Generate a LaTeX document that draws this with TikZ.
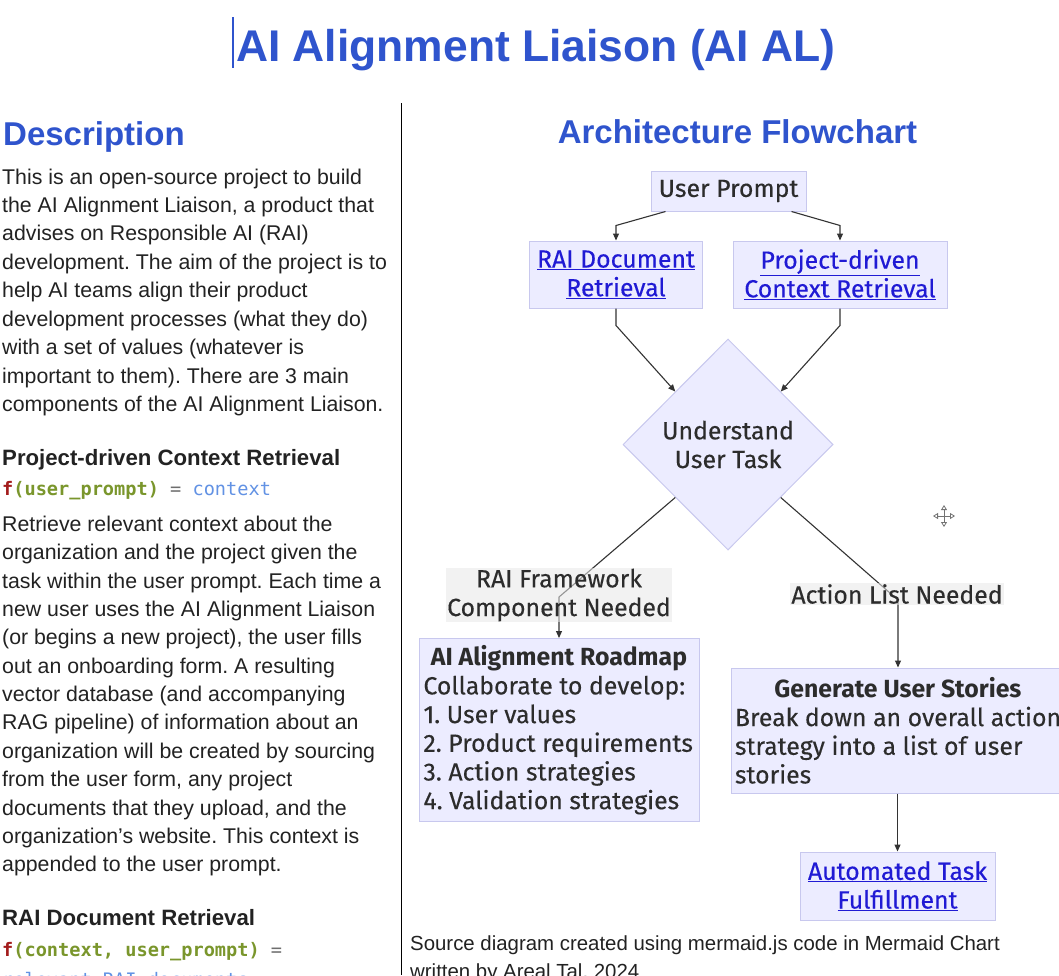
\documentclass[tikz,border=0pt]{standalone}
\usepackage{fontspec}
\setmainfont{Liberation Sans}
\newfontfamily\chartfont{Fira Sans}[UprightFeatures={FakeBold=0.3}]
\newfontfamily\codefont{DejaVu Sans Mono}
\usetikzlibrary{shapes.geometric,arrows.meta,positioning}

\definecolor{headblue}{RGB}{47,84,205}
\definecolor{linkblue}{RGB}{32,26,212}
\definecolor{boxfill}{RGB}{236,236,255}
\definecolor{boxline}{RGB}{200,200,238}
\definecolor{bodytext}{RGB}{34,34,34}
\definecolor{charttext}{RGB}{44,44,44}
\definecolor{edgeline}{RGB}{51,51,51}
\definecolor{codered}{RGB}{163,28,28}
\definecolor{codegreen}{RGB}{122,150,44}
\definecolor{codegray}{RGB}{110,110,110}
\definecolor{codeblue}{RGB}{98,146,228}

\newcommand\linkline[1]{\underline{#1}}
\frenchspacing

\tikzset{
  body/.style={anchor=base west, inner sep=0pt, text=bodytext, font=\fontsize{21.3}{25}\selectfont},
  subhead/.style={body, font=\bfseries\fontsize{22.2}{26}\selectfont},
  codeline/.style={anchor=base west, inner sep=0pt, font=\codefont\fontsize{18.6}{22}\selectfont},
  heading/.style={inner sep=0pt, text=headblue, font=\bfseries\fontsize{33}{38}\selectfont},
  chartbox/.style={draw=boxline, fill=boxfill, line width=1pt, text=charttext, inner sep=0pt,
    font=\chartfont\fontsize{24.8}{28.7}\selectfont, align=center},
  linkbox/.style={chartbox, text=linkblue},
  decision/.style={chartbox, diamond, minimum width=210pt, minimum height=211pt},
  flow/.style={draw=edgeline, line width=1.1pt, -{Triangle[length=7pt,width=6pt]}},
  edgelabel/.style={fill=black!9, fill opacity=0.55, text opacity=1, text=charttext, inner sep=1pt,
    font=\chartfont\fontsize{24.8}{28.7}\selectfont, align=center}
}

\begin{document}
\begin{tikzpicture}[x=1pt,y=-1pt]
\useasboundingbox (0,0) rectangle (1059,975);
\fill[white] (0,0) rectangle (1059,975);

% page title with text cursor
\draw[headblue, line width=1.2pt] (233,17) -- (233,68);
\node[heading, anchor=base west, font=\bfseries\fontsize{44.4}{50}\selectfont] (title) at (236,61) {AI Alignment Liaison (AI AL)};

% column divider
\draw[black, line width=1pt] (401,103) -- (401,975);

% left column
\node[heading, anchor=base west] (deschead) at (3,145) {Description};
\foreach \txt [count=\i] in {This is an open-source project to build,
  {the AI Alignment Liaison, a product that},
  advises on Responsible AI (RAI),
  development. The aim of the project is to,
  help AI teams align their product,
  development processes (what they do),
  with a set of values (whatever is,
  important to them). There are 3 main,
  components of the AI Alignment Liaison.}
  \node[body] (desc\i) at (2,184+28.45*\i-28.45) {\txt};

\node[subhead] (pcrhead) at (2,465) {Project-driven Context Retrieval};
\node[codeline] (pcrcode) at (2,495) {\textcolor{codered}{\bfseries f}\textcolor{codegreen}{\bfseries (user\_prompt)} \textcolor{codegray}{=} \textcolor{codeblue}{context}};
\foreach \txt [count=\i] in {Retrieve relevant context about the,
  organization and the project given the,
  task within the user prompt. Each time a,
  new user uses the AI Alignment Liaison,
  {(or begins a new project), the user fills},
  out an onboarding form. A resulting,
  vector database (and accompanying,
  RAG pipeline) of information about an,
  organization will be created by sourcing,
  {from the user form, any project},
  {documents that they upload, and the},
  organization’s website. This context is,
  appended to the user prompt.}
  \node[body] (pcr\i) at (2,531.5+28.35*\i-28.35) {\txt};

\node[subhead] (raihead) at (2,925) {RAI Document Retrieval};
\node[codeline] (raicode) at (2,956.5) {\textcolor{codered}{\bfseries f}\textcolor{codegreen}{\bfseries (context, user\_prompt)} \textcolor{codegray}{=}};
\node[codeline, text=codeblue] (raicode2) at (2,986) {relevant\_RAI\_documents};

% flowchart
\node[heading, anchor=base] (charthead) at (737.5,143) {Architecture Flowchart};

\node[chartbox, minimum width=155pt, minimum height=40pt] (up) at (728.5,191) {User Prompt};
\node[linkbox, minimum width=173pt, minimum height=67pt] (rai) at (616,274.5) {\linkline{RAI Document}\\\linkline{Retrieval}};
\node[linkbox, minimum width=214pt, minimum height=67pt] (ctx) at (840,274.5) {\linkline{Project-driven}\\\linkline{Context Retrieval}};
\node[decision] (task) at (728,444.5) {Understand\\User Task};
\node[chartbox, minimum width=280pt, minimum height=183pt, align=left] (roadmap) at (559,730)
  {\makebox[271pt][c]{\bfseries AI Alignment Roadmap}\\Collaborate to develop:\\1. User values\\2. Product requirements\\3. Action strategies\\4. Validation strategies};
\node[chartbox, minimum width=334pt, minimum height=125pt, align=left] (gen) at (898,730.5)
  {\makebox[326pt][c]{\bfseries Generate User Stories}\\Break down an overall action\\strategy into a list of user\\stories};
\node[linkbox, minimum width=195pt, minimum height=68pt] (auto) at (897.5,886) {\linkline{Automated Task}\\\linkline{Fulfillment}};

\coordinate (lbend) at (559,597);
\coordinate (rbend) at (898,600);

\draw[flow] ([xshift=-63pt]up.south) -- ([yshift=15pt]rai.north) -- (rai.north);
\draw[flow] ([xshift=63pt]up.south) -- ([yshift=15pt]ctx.north) -- (ctx.north);
\draw[flow] (rai.south) -- ([yshift=-17pt]rai.south) -- (task.north west);
\draw[flow] (ctx.south) -- ([yshift=-17pt]ctx.south) -- (task.north east);
\draw[flow] (task.south west) -- (lbend) -- (roadmap.north -| lbend);
\draw[flow] (task.south east) -- (rbend) -- (gen.north -| rbend);
\draw[flow] (gen.south -| auto.north) -- (auto.north);

\node[edgelabel] (lblrai) at (559,595) {RAI Framework\\Component Needed};
\node[edgelabel] (lblact) at (897,594) {Action List Needed};

% move cursor
\foreach \a in {0,90,180,270}
  \draw[black!55, line width=0.8pt, -{Triangle[open,length=5pt,width=6pt]}] (944,516) -- ++(\a:11);

% footer
\node[body, font=\fontsize{20.4}{25}\selectfont] (src1) at (410,950) {Source diagram created using mermaid.js code in Mermaid Chart};
\node[body, font=\fontsize{20.4}{25}\selectfont] (src2) at (410,978.5) {written by Areal Tal, 2024};
\end{tikzpicture}
\end{document}
